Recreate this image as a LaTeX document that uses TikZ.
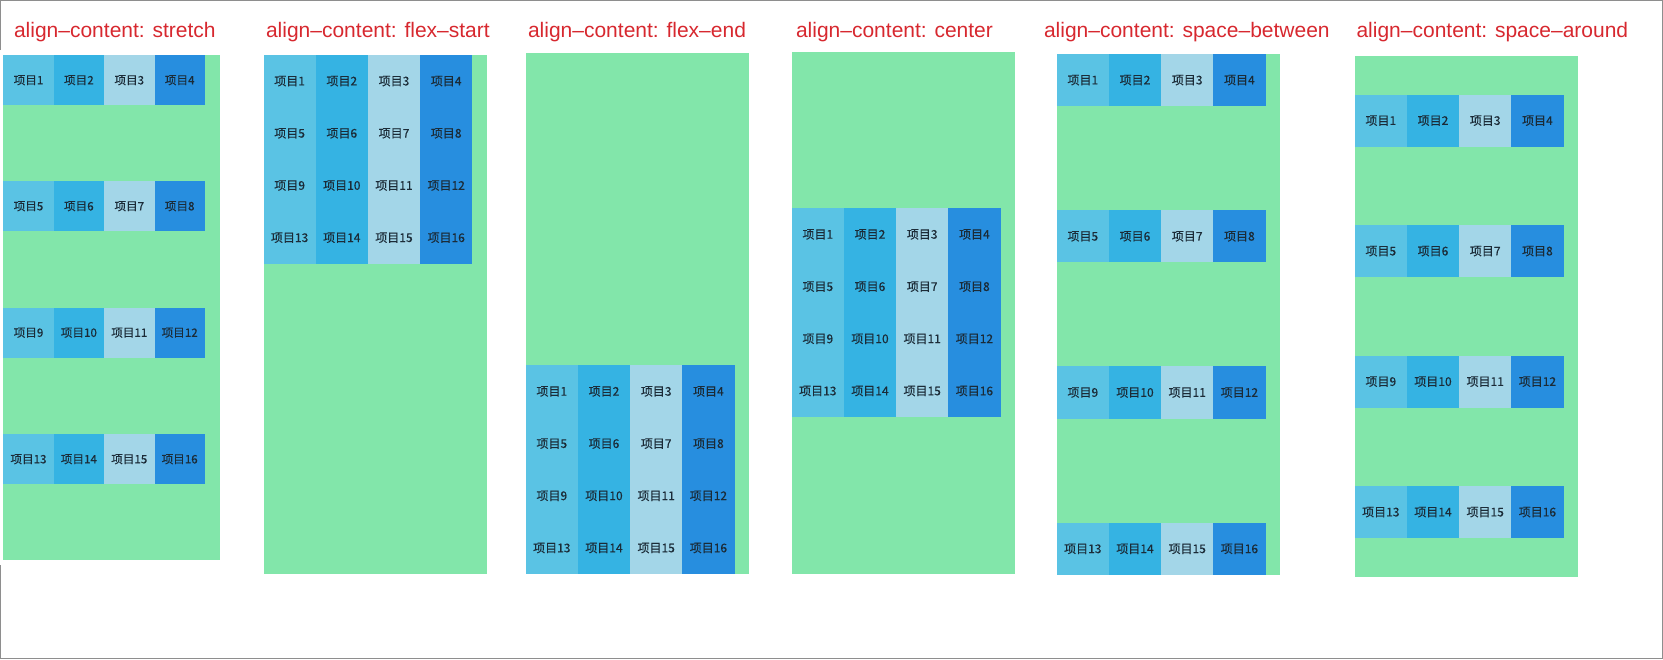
\documentclass[tikz,border=0pt]{standalone}
\usepackage{fontspec}
\setmainfont{Liberation Sans}
\newfontfamily\cjk[FakeBold=0.3]{Noto Sans CJK SC}

\definecolor{boxgreen}{HTML}{82E6AA}
\definecolor{col1}{HTML}{5AC3E4}
\definecolor{col2}{HTML}{35B3E3}
\definecolor{col3}{HTML}{A3D6E8}
\definecolor{col4}{HTML}{278EDF}
\definecolor{itemtext}{HTML}{1B2B37}
\definecolor{titlered}{HTML}{D7282F}
\definecolor{framegray}{HTML}{8E8E8E}

\tikzset{
  box/.style={fill=boxgreen},
  item/.style={anchor=north west, inner sep=0pt, outer sep=0pt, text=itemtext},
  title/.style={anchor=base west, text=titlered, font=\fontsize{21}{24}\selectfont},
  frame/.style={draw=framegray, line width=1pt}
}

\begin{document}
\begin{tikzpicture}[x=1pt, y=-1pt]
  \useasboundingbox (0,0) rectangle (1663,659);

  % name / title / title x / box x / box top / box bottom / box width / item size / row tops
  \foreach \nm/\ttl/\tx/\px/\pt/\pb/\gw/\iw/\rows in {
      stretch/stretch/10.5/3.3/55/560/216.5/50.4/{55,181,307.5,434},
      flexstart/flex–start/262.5/263.5/55/574/223.3/52.2/{55,107.2,159.4,211.6},
      flexend/flex–end/524.5/525.7/52.7/574/223.3/52.2/{365.3,417.5,469.7,521.9},
      center/center/792.5/791.7/52/574/223.3/52.2/{208.3,260.5,312.7,364.9},
      between/space–between/1040.5/1056.7/54/575/223.3/52.2/{54,210.2,366.4,522.7},
      around/space–around/1353/1354.7/56/577/223.3/52.2/{94.5,225,355.5,486}} {
    \node[title] (\nm-title) at (\tx,37) {align–content: \ttl};
    \fill[box] (\px,\pt) rectangle (\px+\gw,\pb);
    \pgfmathsetmacro\fs{0.23*\iw}
    \foreach \y [count=\r from 0] in \rows {
      \foreach \c in {1,...,4} {
        \pgfmathtruncatemacro\n{4*\r+\c}
        \node[item, fill=col\c, minimum width=\iw, minimum height=\iw,
              font=\cjk\fontsize{\fs}{\fs}\selectfont]
          (\nm-\n) at ({\px+(\c-1)*\iw},\y) {项目\n};
      }
    }
  }

  % outer frame, open on the left side
  \draw[frame] (0.5,50) -- (0.5,0.5) -- (1662.5,0.5) -- (1662.5,658.5) -- (0.5,658.5) -- (0.5,565);
\end{tikzpicture}
\end{document}
